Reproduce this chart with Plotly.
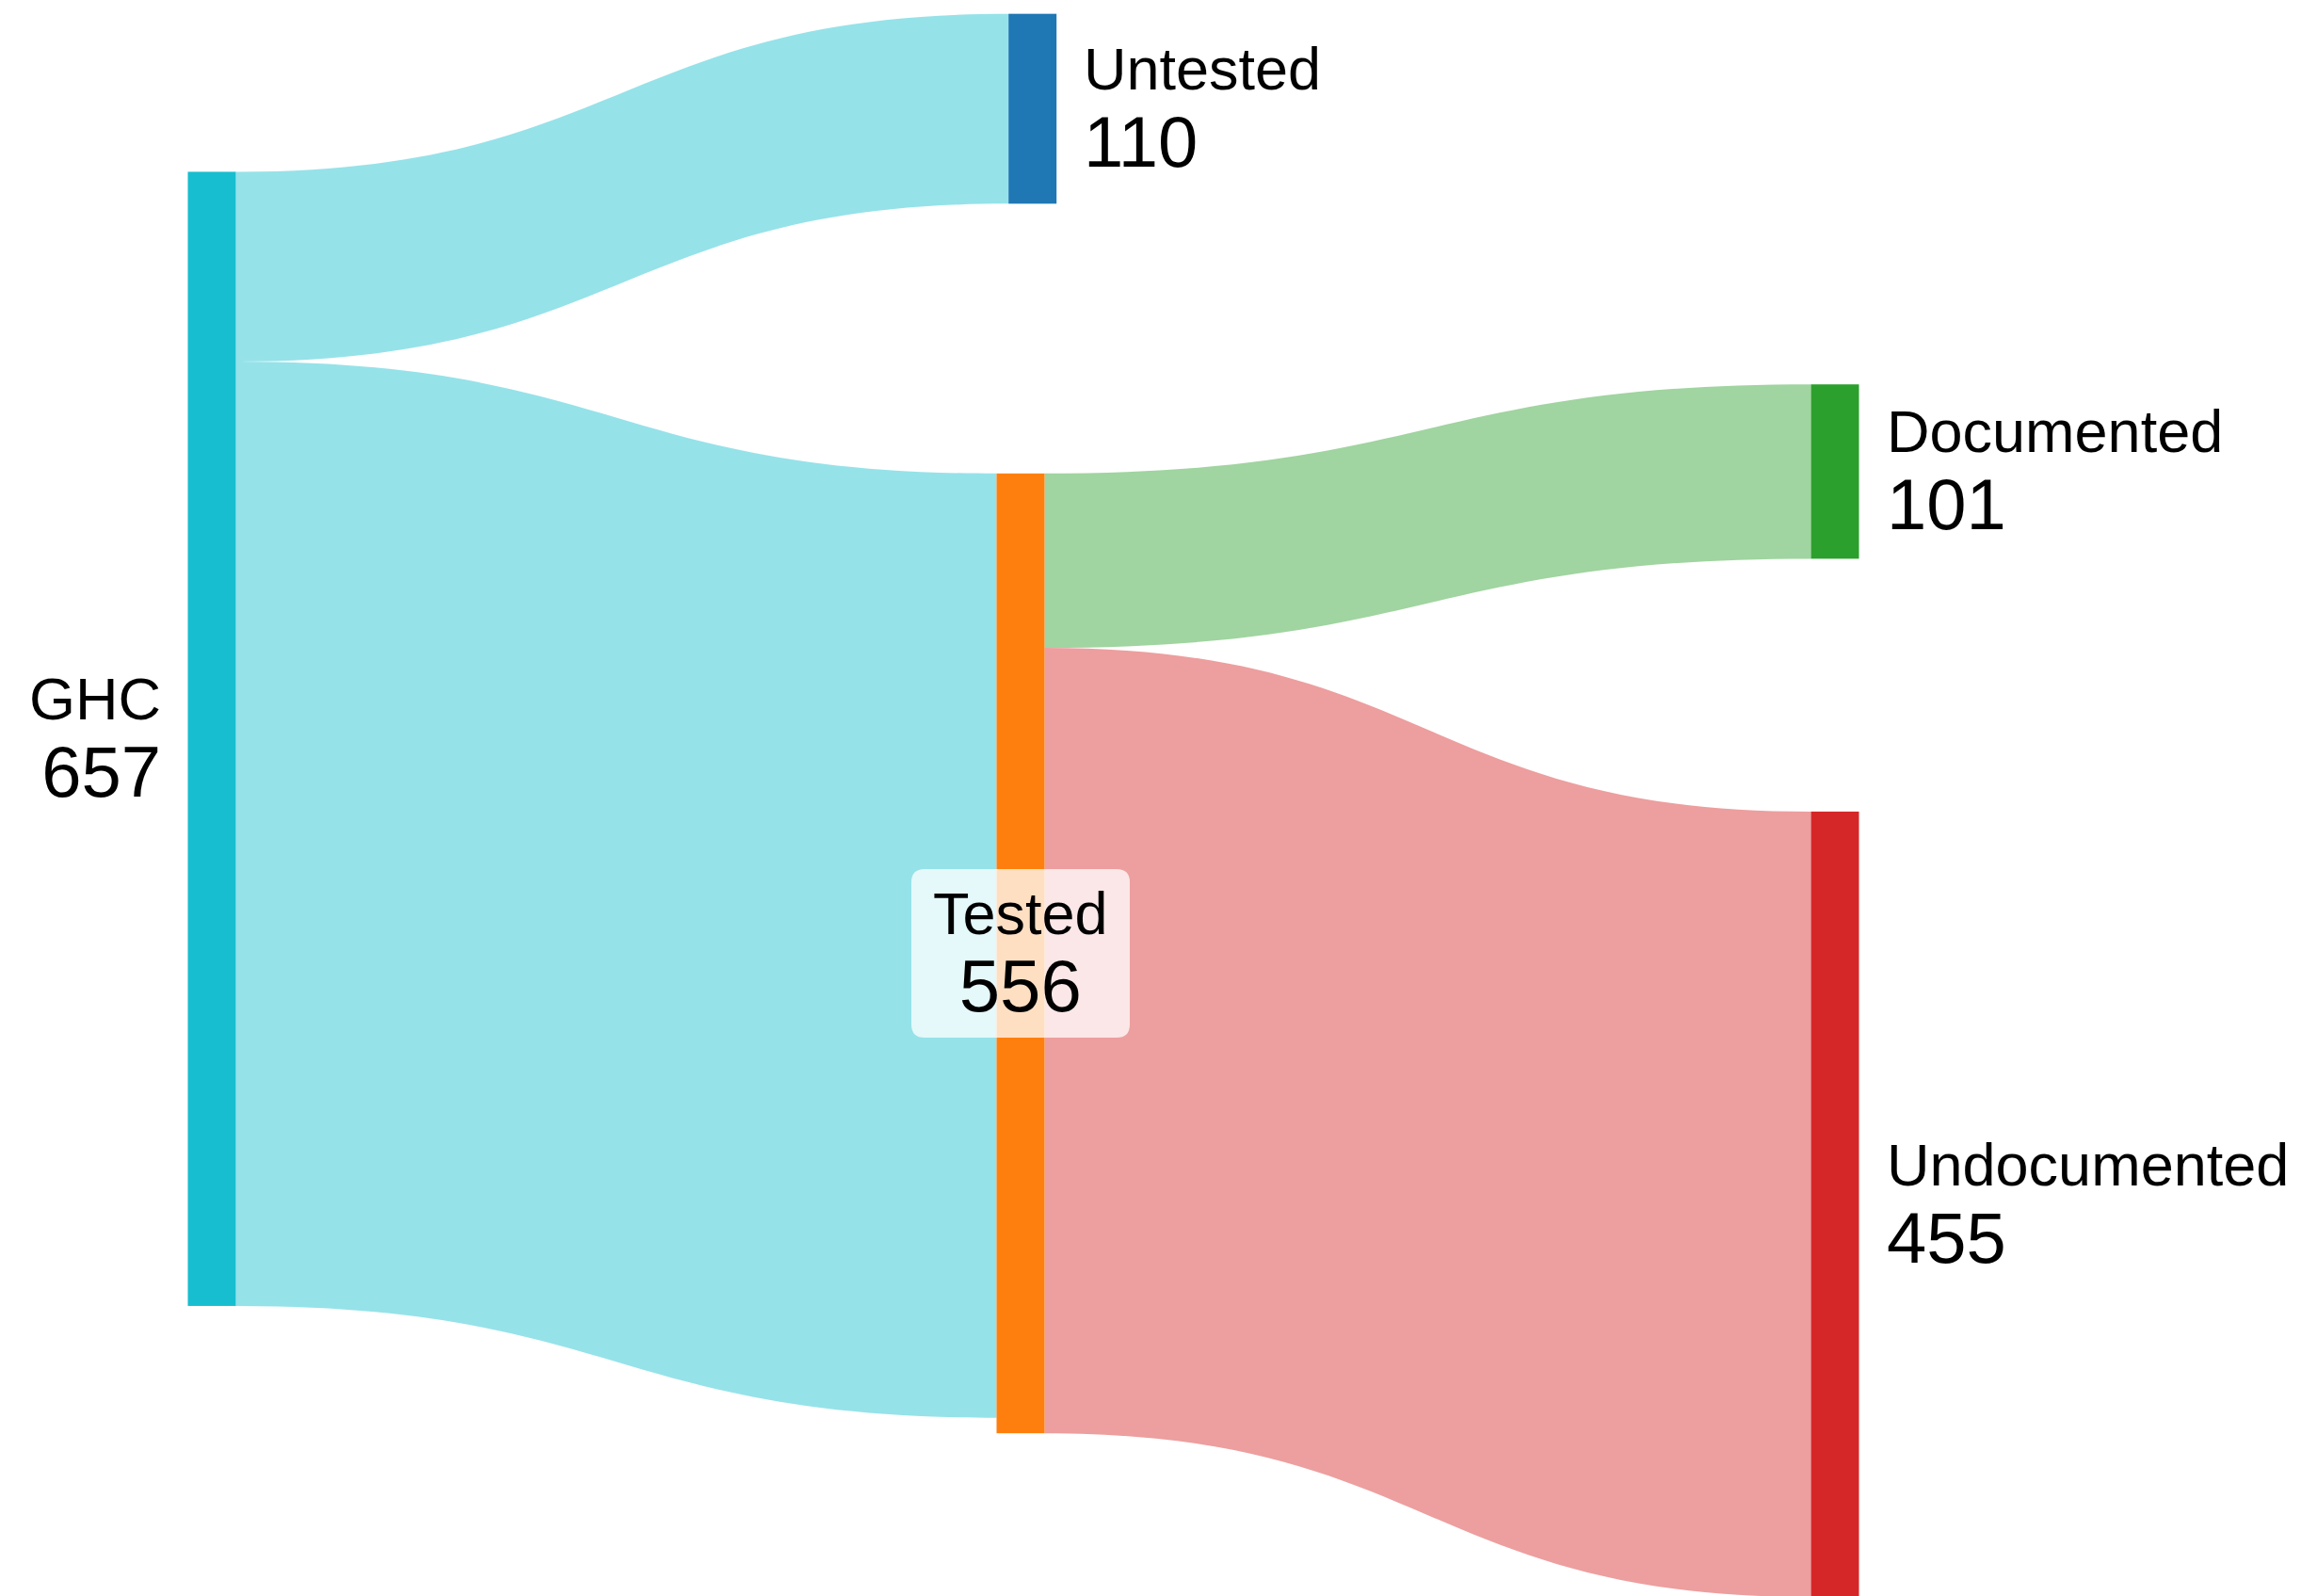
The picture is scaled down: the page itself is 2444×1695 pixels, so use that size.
import plotly.graph_objects as go

# ---- data ----
node_names = ["GHC", "Untested", "Tested", "Documented", "Undocumented"]
node_colors = ["#17becf", "#1f77b4", "#ff7f0e", "#2ca02c", "#d62728"]
link_source = [0, 0, 2, 2]
link_target = [1, 2, 3, 4]
link_value = [110, 547, 101, 455]
link_color_node = [0, 0, 3, 4]

# ---- layout (page pixels; page body adds an 8px offset) ----
W, H = 2444, 1695
OFF = 8
node_x_px = [225, 1096.7, 1084, 1949, 1949]
node_y_px = [784.7, 115.5, 1012.5, 500.8, 1279]
label_side = ["left", "right", "center", "right", "right"]
thickness = 51
pad = 474
gap = 28
FONT = "Liberation Sans, Arial, Helvetica, sans-serif"
NAME_SIZE = 63
VALUE_SIZE = 76
CENTER_VALUE_SIZE = 78


def px_x(x):
    return (x - OFF) / W


def px_y_top(y):
    return (y - OFF) / H


def px_y_paper(y):
    return 1 - (y - OFF) / H


def hex_rgba(h, a):
    h = h.lstrip("#")
    r, g, b = int(h[0:2], 16), int(h[2:4], 16), int(h[4:6], 16)
    return f"rgba({r},{g},{b},{a})"


# node totals = max(inflow, outflow)
totals = []
for i in range(len(node_names)):
    inflow = sum(v for s, t, v in zip(link_source, link_target, link_value) if t == i)
    outflow = sum(v for s, t, v in zip(link_source, link_target, link_value) if s == i)
    totals.append(max(inflow, outflow))

fig = go.Figure(go.Sankey(
    arrangement="fixed",
    domain=dict(x=[0, 1], y=[0, 1]),
    node=dict(
        label=["" for _ in node_names],
        customdata=node_names,
        hovertemplate="%{customdata}: %{value}<extra></extra>",
        color=node_colors,
        thickness=thickness,
        pad=pad,
        line=dict(width=0),
        x=[px_x(x) for x in node_x_px],
        y=[px_y_top(y) for y in node_y_px],
        align="left",
    ),
    link=dict(
        source=link_source,
        target=link_target,
        value=link_value,
        color=[hex_rgba(node_colors[c], 0.45) for c in link_color_node],
    ),
))

annotations = []
shapes = []
for i, name in enumerate(node_names):
    side = label_side[i]
    cx, cy = node_x_px[i], node_y_px[i]
    if side == "center":
        bw, bh, r = 232, 179, 14
        x0, x1 = cx - bw / 2, cx + bw / 2
        y0, y1 = cy - bh / 2, cy + bh / 2

        def P(x, y):
            return f"{px_x(x):.5f},{px_y_paper(y):.5f}"
        path = (f"M {P(x0 + r, y0)} L {P(x1 - r, y0)} Q {P(x1, y0)} {P(x1, y0 + r)} "
                f"L {P(x1, y1 - r)} Q {P(x1, y1)} {P(x1 - r, y1)} "
                f"L {P(x0 + r, y1)} Q {P(x0, y1)} {P(x0, y1 - r)} "
                f"L {P(x0, y0 + r)} Q {P(x0, y0)} {P(x0 + r, y0)} Z")
        shapes.append(dict(type="path", xref="paper", yref="paper", path=path,
                           fillcolor="rgba(255,255,255,0.75)", line=dict(width=0),
                           layer="above"))
        text = f"{name}<br><span style='font-size:{CENTER_VALUE_SIZE}px'>{totals[i]}</span>"
        annotations.append(dict(x=px_x(cx), y=px_y_paper(cy), xref="paper", yref="paper",
                                text=text, showarrow=False, xanchor="center",
                                yanchor="middle", align="center", borderpad=0,
                                font=dict(family=FONT, size=NAME_SIZE, color="black")))
    else:
        text = f"{name}<br><span style='font-size:{VALUE_SIZE}px'>{totals[i]}</span>"
        if side == "left":
            x = px_x(cx - thickness / 2 - gap)
            xa, al = "right", "right"
        else:
            x = px_x(cx + thickness / 2 + gap)
            xa, al = "left", "left"
        annotations.append(dict(x=x, y=px_y_paper(cy), xref="paper", yref="paper",
                                text=text, showarrow=False, xanchor=xa,
                                yanchor="middle", align=al, borderpad=0,
                                font=dict(family=FONT, size=NAME_SIZE, color="black")))

fig.update_layout(
    width=W, height=H, autosize=False,
    margin=dict(l=0, r=0, t=0, b=0),
    paper_bgcolor="white",
    plot_bgcolor="white",
    annotations=annotations,
    shapes=shapes,
    font=dict(family=FONT),
)

fig.write_html("out.html")
